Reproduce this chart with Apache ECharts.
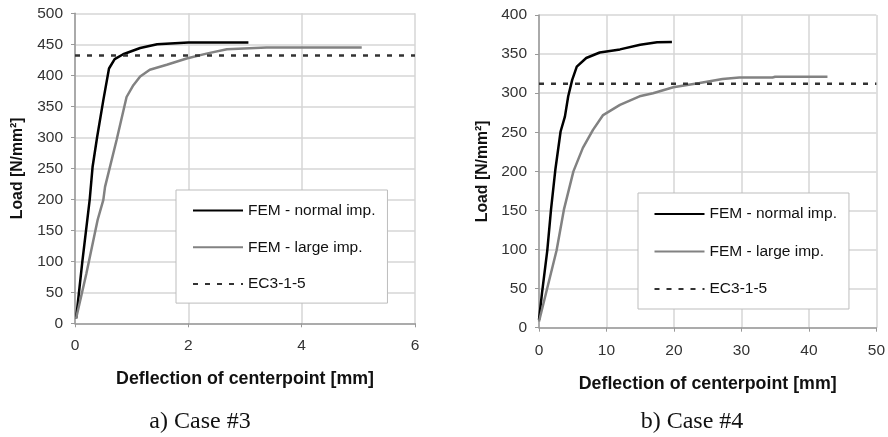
<!DOCTYPE html>
<html>
<head>
<meta charset="utf-8">
<script src="https://cdn.jsdelivr.net/npm/echarts@6/dist/echarts.min.js"></script>
<style>
html,body{margin:0;padding:0;background:#fff;}
#c{width:888px;height:437px;}
</style>
</head>
<body>
<div id="c"></div>
<script>
// ---- Data ----
const seriesNames = ['FEM - normal imp.', 'FEM - large imp.', 'EC3-1-5'];

// a) Case #3
const case3NormalX = [0.02, 0.13, 0.26, 0.31, 0.39, 0.5, 0.6, 0.7, 0.85, 1.15, 1.45, 2.0, 3.06];
const case3NormalY = [8, 100, 200, 252, 300, 360, 411, 426, 434, 444, 450, 453, 453];
const case3LargeX = [0.02, 0.2, 0.4, 0.5, 0.53, 0.735, 0.91, 1.03, 1.15, 1.32, 1.62, 1.97, 2.32, 2.68, 3.38, 5.06];
const case3LargeY = [8, 80, 167, 199, 220, 296, 365, 384, 398, 409, 417, 427, 435, 442, 445, 445];
const case3EcX = [0, 6];
const case3EcY = [432, 432];
const case3XTicks = [0, 2, 4, 6];
const case3YTicks = [0, 50, 100, 150, 200, 250, 300, 350, 400, 450, 500];

// b) Case #4
const case4NormalX = [0, 0.44, 1.23, 1.78, 2.42, 3.2, 3.84, 4.33, 4.92, 5.6, 7, 9, 12, 15, 17.5, 19.7];
const case4NormalY = [10, 44, 99, 151, 202, 251, 270, 296, 317, 334, 345, 352, 356, 362, 365, 365.5];
const case4LargeX = [0, 2.61, 3.69, 5.1, 6.5, 8.0, 9.5, 12, 14.9, 16.9, 19.9, 23.8, 27.2, 29.7, 34.6, 35, 42.75];
const case4LargeY = [8, 99, 151, 200, 230, 253, 272, 285, 296, 300, 307.5, 313, 318, 320, 320, 321, 321];
const case4EcX = [0, 50];
const case4EcY = [312, 312];
const case4XTicks = [0, 10, 20, 30, 40, 50];
const case4YTicks = [0, 50, 100, 150, 200, 250, 300, 350, 400];

const captions = ['a) Case #3', 'b) Case #4'];
const xTitle = 'Deflection of centerpoint [mm]';
const yTitle = 'Load [N/mm\u00B2]';

// ---- helpers ----
function pairs(xs, ys) { return xs.map((x, i) => [x, ys[i]]); }

const sans = 'Liberation Sans, Arial, sans-serif';
const gridColor = '#d6d6d6';
const axisColor = '#999';
const labelStyle = { color: '#333', fontSize: 15.5, fontFamily: sans };

function xAxisFor(gridIndex, ticks, gap, margin) {
  return {
    type: 'value', gridIndex: gridIndex,
    min: ticks[0], max: ticks[ticks.length - 1], interval: ticks[1] - ticks[0],
    name: xTitle, nameLocation: 'middle', nameGap: gap,
    nameTextStyle: { color: '#111', fontSize: 17.8, fontWeight: 'bold', fontFamily: sans },
    axisLine: { show: true, onZero: false, lineStyle: { color: axisColor, width: 1.5 } },
    axisTick: { show: true, length: 4, lineStyle: { color: axisColor } },
    axisLabel: Object.assign({ margin: margin }, labelStyle),
    splitLine: { show: true, lineStyle: { color: gridColor, width: 1.5 } }
  };
}
function yAxisFor(gridIndex, ticks, gap) {
  return {
    type: 'value', gridIndex: gridIndex,
    min: ticks[0], max: ticks[ticks.length - 1], interval: ticks[1] - ticks[0],
    name: yTitle, nameLocation: 'middle', nameGap: gap,
    nameTextStyle: { color: '#111', fontSize: 15.8, fontWeight: 'bold', fontFamily: sans },
    axisLine: { show: true, onZero: false, lineStyle: { color: axisColor, width: 1.5 } },
    axisTick: { show: true, length: 4, lineStyle: { color: axisColor } },
    axisLabel: Object.assign({ margin: 12 }, labelStyle),
    splitLine: { show: true, lineStyle: { color: gridColor, width: 1.5 } }
  };
}
function lineSeries(name, data, gi, style) {
  return {
    name: name, type: 'line', xAxisIndex: gi, yAxisIndex: gi,
    data: data, symbol: 'none', smooth: false, animation: false,
    lineStyle: style, itemStyle: { color: style.color }, z: 3
  };
}
const normalStyle = { color: '#000', width: 2.5 };
const largeStyle = { color: '#828282', width: 2.5 };
const ecStyle = { color: '#333', width: 2.5, type: [5, 7] };

function legendFor(left, top, pad, gap) {
  return {
    data: seriesNames,
    orient: 'vertical', left: left, top: top,
    itemWidth: 50, itemHeight: 15, itemGap: gap,
    itemStyle: { opacity: 0 },
    padding: pad, backgroundColor: '#fff', borderColor: '#bdbdbd', borderWidth: 1,
    textStyle: { color: '#111', fontSize: 15.5, fontFamily: sans },
    selectedMode: false
  };
}

const option = {
  animation: false,
  backgroundColor: '#fff',
  grid: [
    { left: 75, top: 13.3, width: 340, height: 310, containLabel: false },
    { left: 539, top: 15, width: 338, height: 312.7, containLabel: false }
  ],
  xAxis: [xAxisFor(0, case3XTicks, 47, 14), xAxisFor(1, case4XTicks, 47, 15)],
  yAxis: [yAxisFor(0, case3YTicks, 49), yAxisFor(1, case4YTicks, 48)],
  legend: [
    legendFor(176, 190, [12.5, 12, 11, 16], 20.8),
    legendFor(638, 193, [13, 12, 12, 15.5], 21.5)
  ],
  series: [
    lineSeries(seriesNames[0], pairs(case3NormalX, case3NormalY), 0, normalStyle),
    lineSeries(seriesNames[1], pairs(case3LargeX, case3LargeY), 0, largeStyle),
    lineSeries(seriesNames[2], pairs(case3EcX, case3EcY), 0, ecStyle),
    lineSeries(seriesNames[0], pairs(case4NormalX, case4NormalY), 1, normalStyle),
    lineSeries(seriesNames[1], pairs(case4LargeX, case4LargeY), 1, largeStyle),
    lineSeries(seriesNames[2], pairs(case4EcX, case4EcY), 1, ecStyle)
  ],
  graphic: [
    { type: 'text', x: 200, y: 422, style: { text: captions[0], fill: '#111', font: '24px "Liberation Serif", "Times New Roman", serif', align: 'center', verticalAlign: 'middle' } },
    { type: 'text', x: 692, y: 422, style: { text: captions[1], fill: '#111', font: '24px "Liberation Serif", "Times New Roman", serif', align: 'center', verticalAlign: 'middle' } }
  ]
};

const chart = echarts.init(document.getElementById('c'), null, { renderer: 'canvas' });
chart.setOption(option);
</script>
</body>
</html>
